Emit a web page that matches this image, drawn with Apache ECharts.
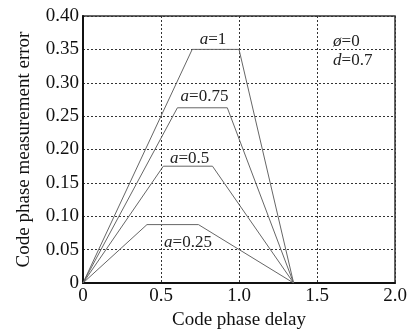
<!DOCTYPE html>
<html><head><meta charset="utf-8">
<script src="https://cdn.jsdelivr.net/npm/echarts@6/dist/echarts.min.js"></script>
<style>html,body{margin:0;padding:0;background:#fff}#c{width:410px;height:329px}</style>
</head><body><div id="c"></div>
<script>
// a = 1, 0.75, 0.5, 0.25 : [delay, error] vertices
const curveA1 = [[0,0],[0.70,0.35],[1.00,0.35],[1.35,0]];
const curveA075 = [[0,0],[0.605,0.2625],[0.925,0.2625],[1.35,0]];
const curveA05 = [[0,0],[0.515,0.175],[0.83,0.175],[1.35,0]];
const curveA025 = [[0,0],[0.41,0.0875],[0.74,0.0875],[1.35,0]];
const curveNames = ['1','0.75','0.5','0.25'];
const labelAt = [[0.833,0.364],[0.779,0.279],[0.683,0.187],[0.673,0.060]];
const paramText = [['ø','=0'],['d','=0.7']];
const paramAt = [[1.603,0.3625],[1.603,0.334]];

const serif = '"Liberation Serif","DejaVu Serif",serif';
const rich = {i:{fontStyle:'italic',fontFamily:serif,fontSize:17,color:'#222'},
              n:{fontFamily:serif,fontSize:17,color:'#222'}};
const curves = [curveA1, curveA075, curveA05, curveA025];
const series = curves.map((d,i)=>({
  type:'line', data:d, symbol:'none', silent:true,
  lineStyle:{color:'#666',width:1},
  markPoint:{symbol:'circle', symbolSize:1, itemStyle:{color:'rgba(0,0,0,0)'},
    data:[{coord:labelAt[i], value:curveNames[i]}],
    label:{show:true, position:'inside', formatter:'{i|a}{n|=' + curveNames[i] + '}', rich}}
}));
series.push({type:'line', data:[], silent:true, markPoint:{symbol:'circle', symbolSize:1,
  itemStyle:{color:'rgba(0,0,0,0)'},
  data:paramText.map((t,k)=>({coord:paramAt[k], value:t[0],
    label:{formatter:'{i|'+t[0]+'}{n|'+t[1]+'}'}})),
  label:{show:true, position:'inside', align:'left', rich}}});

const chart = echarts.init(document.getElementById('c'));
chart.setOption({
  animation:false,
  grid:{left:83,right:15,top:16,bottom:46,outerBoundsMode:'none',containLabel:false,
    show:true,borderColor:'#333',borderWidth:1.5},
  xAxis:{type:'value',min:0,max:2,interval:0.5,
    name:'Code phase delay',nameLocation:'middle',nameGap:25,
    nameTextStyle:{fontFamily:serif,fontSize:19,color:'#111'},
    axisLine:{lineStyle:{color:'#111',width:2}},axisTick:{show:false},
    axisLabel:{fontFamily:serif,fontSize:19,color:'#111',margin:4,
      formatter:v=>v===0?'0':v.toFixed(1)},
    splitLine:{show:true,lineStyle:{color:'#333',type:[2,2],width:1}}},
  yAxis:{type:'value',min:0,max:0.4,interval:0.05,
    name:'Code phase measurement error',nameLocation:'middle',nameGap:49,
    nameTextStyle:{fontFamily:serif,fontSize:19,color:'#111'},
    axisLine:{lineStyle:{color:'#111',width:2}},axisTick:{show:false},
    axisLabel:{fontFamily:serif,fontSize:19,color:'#111',margin:4,
      formatter:v=>v===0?'0':v.toFixed(2)},
    splitLine:{show:true,lineStyle:{color:'#333',type:[2,2],width:1}}},
  series
});
</script></body></html>
